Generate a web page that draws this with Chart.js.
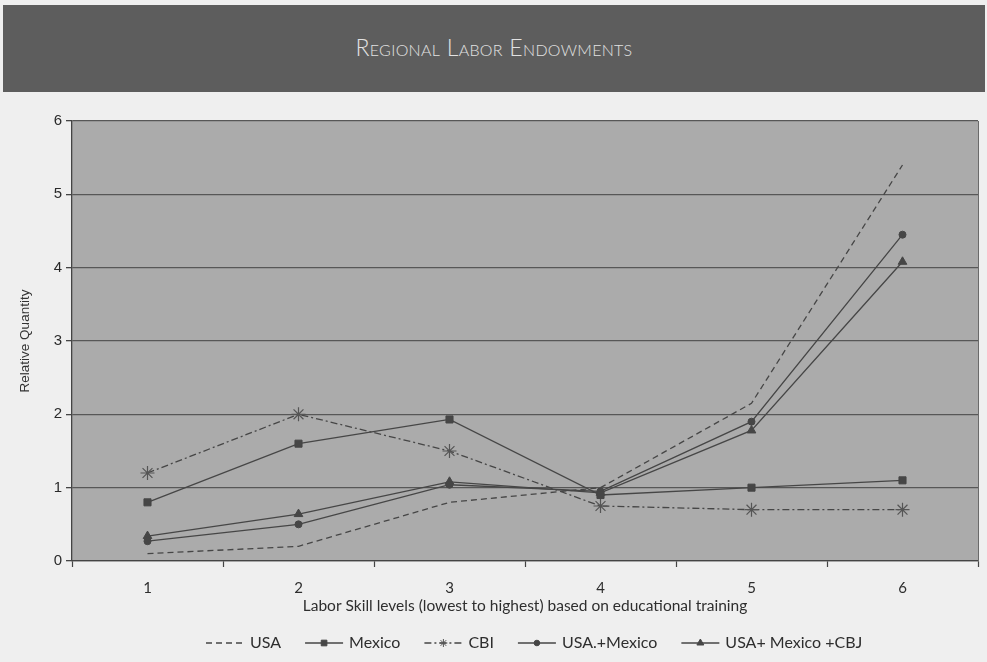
<!DOCTYPE html>
<html>
<head>
<meta charset="utf-8">
<script src="https://cdn.jsdelivr.net/npm/chart.js@4.4.1/dist/chart.umd.min.js"></script>
<style>
  html, body { margin: 0; padding: 0; background: #efefef; }
  #wrap { position: relative; width: 987px; height: 662px; overflow: hidden; }
  #banner {
    position: absolute; left: 3px; top: 5px; width: 982px; height: 87px;
    background: #5d5d5d; color: #e2e2e2;
    font: 300 23px Lato, "DejaVu Sans", sans-serif; font-variant: small-caps;
    letter-spacing: 0.3px; text-align: center; line-height: 84px;
  }
  canvas { position: absolute; left: 0; top: 0; }
</style>
</head>
<body>
<div id="wrap">
  <canvas id="chart" width="987" height="662"></canvas>
  <div id="banner">Regional Labor Endowments</div>
</div>
<script>
// Skill levels on the category axis
const skillLevels = ['1', '2', '3', '4', '5', '6'];

// Relative quantity of labour at each skill level
const usaValues        = [0.10, 0.20, 0.80, 1.00, 2.15, 5.40];
const mexicoValues     = [0.80, 1.60, 1.93, 0.90, 1.00, 1.10];
const cbiValues        = [1.20, 2.00, 1.50, 0.75, 0.70, 0.70];
const usaMexicoValues  = [0.27, 0.50, 1.04, 0.95, 1.90, 4.45];
const usaMexCbiValues  = [0.34, 0.64, 1.08, 0.93, 1.78, 4.08];

const seriesLabels = ['USA', 'Mexico', 'CBI', 'USA.+Mexico', 'USA+ Mexico +CBJ'];

const yAxisTitle = 'Relative Quantity';
const xAxisTitle = 'Labor Skill levels (lowest to highest) based on educational training';

const INK = '#464646';

function series(label, data, extra) {
  return Object.assign({
    label, data,
    borderColor: INK, backgroundColor: INK,
    pointBorderColor: INK, pointBackgroundColor: INK,
    borderWidth: 1.3, tension: 0, fill: false,
    pointRadius: 0, pointHoverRadius: 0, pointBorderWidth: 1
  }, extra);
}

const datasets = [
  series(seriesLabels[0], usaValues, { borderDash: [6, 4] }),
  series(seriesLabels[1], mexicoValues, { pointStyle: 'rect', pointRadius: 5 }),
  series(seriesLabels[2], cbiValues, {
    borderDash: [7, 3, 2, 3], pointStyle: 'star', pointRadius: 7,
    pointBorderWidth: 1.2, pointBorderColor: '#555'
  }),
  series(seriesLabels[3], usaMexicoValues, { pointStyle: 'circle', pointRadius: 3.5 }),
  series(seriesLabels[4], usaMexCbiValues, { pointStyle: 'triangle', pointRadius: 5 })
];

// Grey fill and frame behind the plotting area
const plotBackground = {
  id: 'plotBackground',
  beforeDraw(chart) {
    const { ctx, chartArea: a } = chart;
    ctx.save();
    ctx.fillStyle = '#ababab';
    ctx.fillRect(a.left, a.top, a.right - a.left, a.bottom - a.top);
    ctx.restore();
  },
  afterDraw(chart) {
    const { ctx, chartArea: a } = chart;
    ctx.save();
    ctx.strokeStyle = '#6a6a6a';
    ctx.lineWidth = 1;
    ctx.beginPath();
    ctx.moveTo(a.right + 0.5, a.top);
    ctx.lineTo(a.right + 0.5, a.bottom);
    ctx.stroke();
    ctx.restore();
  }
};

// Legend row: a line sample with its marker, followed by the series name
const sampleLegend = {
  id: 'sampleLegend',
  afterDraw(chart) {
    const { ctx } = chart;
    const y = 643;
    const sampleW = 38;
    let x = 206;
    ctx.save();
    ctx.font = '16px Lato, sans-serif';
    ctx.textBaseline = 'middle';
    chart.data.datasets.forEach((ds) => {
      ctx.strokeStyle = ds.borderColor;
      ctx.lineWidth = 1.3;
      ctx.setLineDash(ds.borderDash || []);
      ctx.beginPath();
      ctx.moveTo(x, y);
      ctx.lineTo(x + sampleW, y);
      ctx.stroke();
      ctx.setLineDash([]);
      if (ds.pointRadius > 0) {
        ctx.fillStyle = ds.pointBackgroundColor;
        ctx.strokeStyle = ds.pointBorderColor;
        ctx.lineWidth = 1;
        Chart.helpers.drawPoint(ctx, {
          pointStyle: ds.pointStyle, radius: Math.min(ds.pointRadius, 5) * 0.8,
          borderWidth: 1, rotation: 0
        }, x + sampleW / 2, y);
      }
      ctx.fillStyle = '#2e2e2e';
      ctx.fillText(ds.label, x + sampleW + 6, y);
      x += sampleW + 6 + ctx.measureText(ds.label).width + 24;
    });
    ctx.restore();
  }
};

new Chart(document.getElementById('chart'), {
  type: 'line',
  data: { labels: skillLevels, datasets },
  plugins: [plotBackground, sampleLegend],
  options: {
    responsive: false,
    devicePixelRatio: 1,
    animation: false,
    events: [],
    layout: { padding: { left: 0, right: 9, top: 121, bottom: 46 } },
    plugins: { legend: { display: false }, tooltip: { enabled: false } },
    scales: {
      x: {
        type: 'category',
        offset: true,
        afterFit(scale) { scale.height = 55; },
        grid: {
          offset: true, drawOnChartArea: false, drawTicks: true,
          tickLength: 6, tickColor: '#444', tickWidth: 1.2
        },
        border: { display: true, color: '#444', width: 1.3 },
        ticks: { color: '#2e2e2e', padding: 12, font: { family: 'Lato', size: 15 } },
        title: {
          display: true, text: xAxisTitle, color: '#2e2e2e',
          font: { family: 'Lato', size: 15.5 }, padding: { top: 0, bottom: 1 }
        }
      },
      y: {
        min: 0, max: 6,
        afterFit(scale) { scale.width = 72; },
        ticks: { stepSize: 1, color: '#2a2a2a', padding: 4, font: { family: 'Liberation Sans', size: 15 } },
        grid: {
          color: '#575757', lineWidth: 1.3, drawTicks: true,
          tickLength: 6, tickColor: '#444'
        },
        border: { display: true, color: '#444', width: 1.3 },
        title: {
          display: true, text: yAxisTitle, color: '#333',
          font: { family: 'Liberation Sans', size: 13.5 }, padding: { top: 17 }
        }
      }
    }
  }
});
</script>
</body>
</html>
